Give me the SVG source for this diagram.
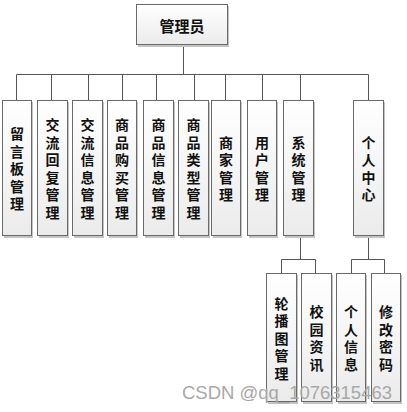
<svg xmlns="http://www.w3.org/2000/svg" width="407" height="412" viewBox="0 0 407 412">
<defs>
<linearGradient id="g" x1="0" y1="0" x2="0" y2="1">
<stop offset="0" stop-color="#ffffff"/>
<stop offset="1" stop-color="#ebebeb"/>
</linearGradient>
</defs>
<style>
.sh{fill:#c4c4c4}
.bx{fill:url(#g);stroke:#6a6a6a;stroke-width:1}
.t{font-family:"Noto Sans CJK SC","Noto Sans CJK TC",sans-serif;font-size:14px;font-weight:bold;fill:#111;text-anchor:middle;dominant-baseline:central}
.ln{stroke:#555;stroke-width:1;fill:none}
.wm{font-family:"Liberation Sans",Arial,sans-serif;font-size:18px;fill:#a8a8a8}
</style>
<rect width="407" height="412" fill="#fff"/>
<g id="connectors">
<path class="ln" d="M183.5 45V74.5M16.5 74.5H368.5M16.5 74.5V100M51.5 74.5V100M88.5 74.5V100M122.5 74.5V100M156.5 74.5V100M194.5 74.5V100M225.5 74.5V100M262.5 74.5V100M300.5 74.5V100M368.5 74.5V100"/>
<path class="ln" d="M300.5 236V259.5M281.5 259.5H315.5M281.5 259.5V273M315.5 259.5V273"/>
<path class="ln" d="M368.5 236V259.5M351.5 259.5H384.5M351.5 259.5V273M384.5 259.5V273"/>
</g>
<g id="n0"><rect class="sh" x="138" y="6" width="91" height="41"/><rect class="bx" x="136.5" y="4.5" width="91" height="40"/><text class="t" x="182" y="25" style="font-size:15px">管理员</text></g>
<g id="n1"><rect class="sh" x="4" y="102" width="29" height="136"/><rect class="bx" x="2.5" y="100.5" width="29" height="135"/>
<text class="t"><tspan x="17" y="133">留</tspan><tspan x="17" y="150.5">言</tspan><tspan x="17" y="168">板</tspan><tspan x="17" y="185.5">管</tspan><tspan x="17" y="203">理</tspan></text></g>
<g id="n2"><rect class="sh" x="39" y="102" width="30" height="136"/><rect class="bx" x="37.5" y="100.5" width="30" height="135"/>
<text class="t"><tspan x="52.5" y="124.25">交</tspan><tspan x="52.5" y="141.75">流</tspan><tspan x="52.5" y="159.25">回</tspan><tspan x="52.5" y="176.75">复</tspan><tspan x="52.5" y="194.25">管</tspan><tspan x="52.5" y="211.75">理</tspan></text></g>
<g id="n3"><rect class="sh" x="74" y="102" width="30" height="136"/><rect class="bx" x="72.5" y="100.5" width="30" height="135"/>
<text class="t"><tspan x="87.5" y="124.25">交</tspan><tspan x="87.5" y="141.75">流</tspan><tspan x="87.5" y="159.25">信</tspan><tspan x="87.5" y="176.75">息</tspan><tspan x="87.5" y="194.25">管</tspan><tspan x="87.5" y="211.75">理</tspan></text></g>
<g id="n4"><rect class="sh" x="109" y="102" width="29" height="136"/><rect class="bx" x="107.5" y="100.5" width="29" height="135"/>
<text class="t"><tspan x="122" y="124.25">商</tspan><tspan x="122" y="141.75">品</tspan><tspan x="122" y="159.25">购</tspan><tspan x="122" y="176.75">买</tspan><tspan x="122" y="194.25">管</tspan><tspan x="122" y="211.75">理</tspan></text></g>
<g id="n5"><rect class="sh" x="145" y="102" width="30" height="136"/><rect class="bx" x="143.5" y="100.5" width="30" height="135"/>
<text class="t"><tspan x="158.5" y="124.25">商</tspan><tspan x="158.5" y="141.75">品</tspan><tspan x="158.5" y="159.25">信</tspan><tspan x="158.5" y="176.75">息</tspan><tspan x="158.5" y="194.25">管</tspan><tspan x="158.5" y="211.75">理</tspan></text></g>
<g id="n6"><rect class="sh" x="180" y="102" width="30" height="136"/><rect class="bx" x="178.5" y="100.5" width="30" height="135"/>
<text class="t"><tspan x="193.5" y="124.25">商</tspan><tspan x="193.5" y="141.75">品</tspan><tspan x="193.5" y="159.25">类</tspan><tspan x="193.5" y="176.75">型</tspan><tspan x="193.5" y="194.25">管</tspan><tspan x="193.5" y="211.75">理</tspan></text></g>
<g id="n7"><rect class="sh" x="213" y="102" width="29" height="136"/><rect class="bx" x="211.5" y="100.5" width="29" height="135"/>
<text class="t"><tspan x="226" y="141.75">商</tspan><tspan x="226" y="159.25">家</tspan><tspan x="226" y="176.75">管</tspan><tspan x="226" y="194.25">理</tspan></text></g>
<g id="n8"><rect class="sh" x="249" y="102" width="29" height="136"/><rect class="bx" x="247.5" y="100.5" width="29" height="135"/>
<text class="t"><tspan x="262" y="141.75">用</tspan><tspan x="262" y="159.25">户</tspan><tspan x="262" y="176.75">管</tspan><tspan x="262" y="194.25">理</tspan></text></g>
<g id="n9"><rect class="sh" x="285" y="102" width="30" height="136"/><rect class="bx" x="283.5" y="100.5" width="30" height="135"/>
<text class="t"><tspan x="298.5" y="141.75">系</tspan><tspan x="298.5" y="159.25">统</tspan><tspan x="298.5" y="176.75">管</tspan><tspan x="298.5" y="194.25">理</tspan></text></g>
<g id="n10"><rect class="sh" x="355" y="102" width="30" height="136"/><rect class="bx" x="353.5" y="100.5" width="30" height="135"/>
<text class="t"><tspan x="368.5" y="141.75">个</tspan><tspan x="368.5" y="159.25">人</tspan><tspan x="368.5" y="176.75">中</tspan><tspan x="368.5" y="194.25">心</tspan></text></g>
<g id="n11"><rect class="sh" x="268" y="275" width="30" height="129"/><rect class="bx" x="266.5" y="273.5" width="30" height="128"/>
<text class="t"><tspan x="281.5" y="302.5">轮</tspan><tspan x="281.5" y="320">播</tspan><tspan x="281.5" y="337.5">图</tspan><tspan x="281.5" y="355">管</tspan><tspan x="281.5" y="372.5">理</tspan></text></g>
<g id="n12"><rect class="sh" x="303" y="275" width="30" height="129"/><rect class="bx" x="301.5" y="273.5" width="30" height="128"/>
<text class="t"><tspan x="316.5" y="311.25">校</tspan><tspan x="316.5" y="328.75">园</tspan><tspan x="316.5" y="346.25">资</tspan><tspan x="316.5" y="363.75">讯</tspan></text></g>
<g id="n13"><rect class="sh" x="338" y="275" width="29" height="129"/><rect class="bx" x="336.5" y="273.5" width="29" height="128"/>
<text class="t"><tspan x="351" y="311.25">个</tspan><tspan x="351" y="328.75">人</tspan><tspan x="351" y="346.25">信</tspan><tspan x="351" y="363.75">息</tspan></text></g>
<g id="n14"><rect class="sh" x="373" y="275" width="29" height="129"/><rect class="bx" x="371.5" y="273.5" width="29" height="128"/>
<text class="t"><tspan x="386" y="311.25">修</tspan><tspan x="386" y="328.75">改</tspan><tspan x="386" y="346.25">密</tspan><tspan x="386" y="363.75">码</tspan></text></g>
<text class="wm" x="182" y="399" textLength="210" lengthAdjust="spacingAndGlyphs">CSDN @qq_1076315463</text>
</svg>
